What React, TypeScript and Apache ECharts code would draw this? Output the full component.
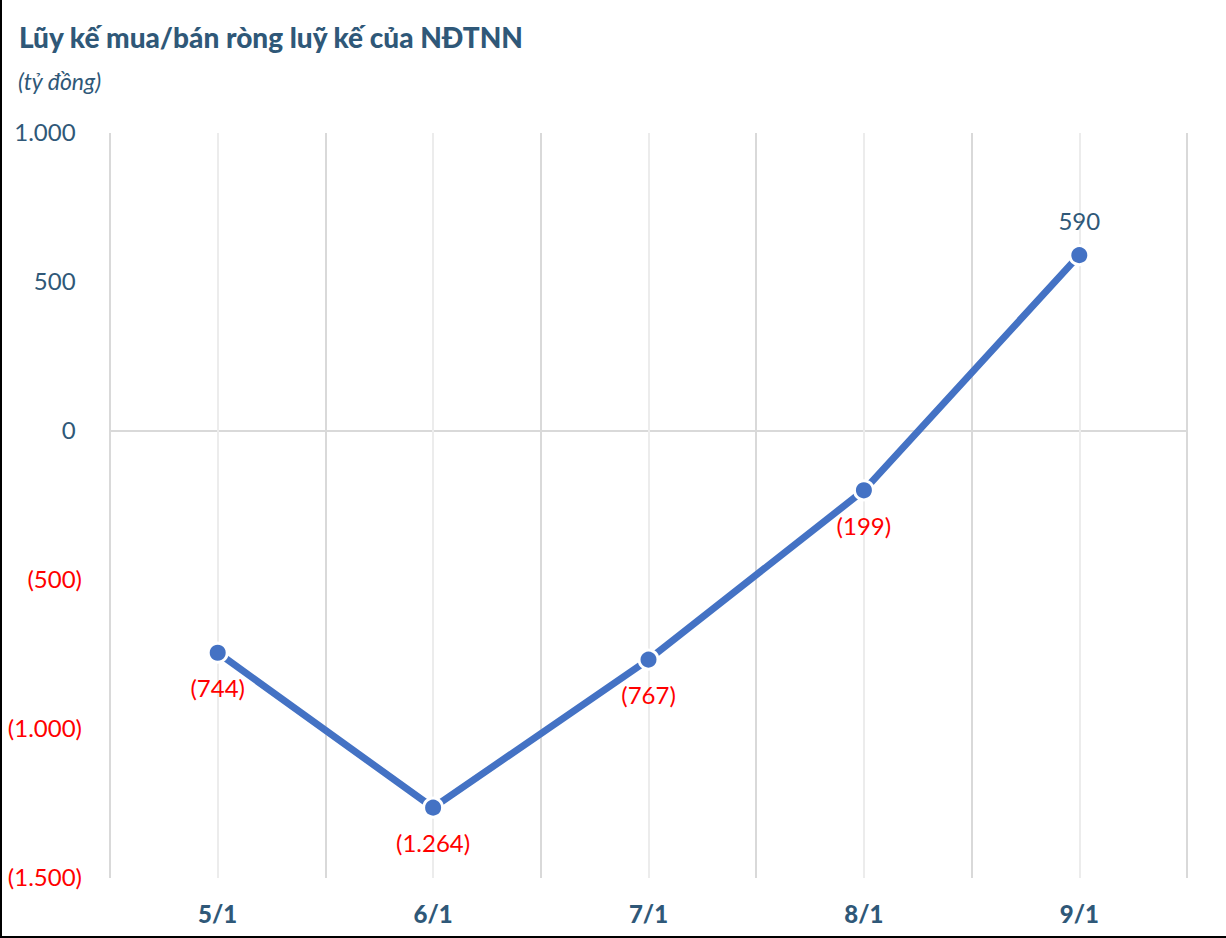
import React, { useEffect, useRef } from "react";
import * as echarts from "echarts";

const categories = ["5/1", "6/1", "7/1", "8/1", "9/1"];
const values = [-744, -1264, -767, -199, 590];
const yMin = -1500;
const yMax = 1000;
const yInterval = 500;
const titleText = "Lũy kế mua/bán ròng luỹ kế của NĐTNN";
const subtitleText = "(tỷ đồng)";

const DARK = "#2f5878";
const RED = "#ff0000";
const LINE = "#4472c4";
const FONT = "Lato, 'Noto Sans', sans-serif";

function fmt(v: number): string {
  const s = Math.abs(v)
    .toString()
    .replace(/\B(?=(\d{3})+(?!\d))/g, ".");
  return v < 0 ? `(${s})` : s;
}

export default function App() {
  const ref = useRef<HTMLDivElement>(null);
  useEffect(() => {
    if (!ref.current) return;
    const chart = echarts.init(ref.current, null, { renderer: "svg" });
    const zeroIdx = Math.round((0 - yMin) / yInterval);
    const nTicks = Math.round((yMax - yMin) / yInterval) + 1;
    const yLineColors = Array.from({ length: nTicks }, (_, i) =>
      i === zeroIdx ? "#d9d9d9" : "rgba(0,0,0,0)"
    );
    const halfCats = categories.flatMap((c) => [c + "-a", c + "-b"]);
    chart.setOption({
      animation: false,
      backgroundColor: "#ffffff",
      title: [
        {
          text: titleText,
          left: 19,
          top: 23,
          padding: 0,
          textStyle: { fontFamily: FONT, fontWeight: 900, fontSize: 28, color: DARK },
        },
        {
          text: subtitleText,
          left: 18,
          top: 69,
          padding: 0,
          textStyle: { fontFamily: FONT, fontStyle: "italic", fontWeight: "normal", fontSize: 23, color: DARK },
        },
      ],
      graphic: [
        { type: "rect", shape: { x: 0, y: 0, width: 2, height: 938 }, style: { fill: "#000" }, z: 100 },
        { type: "rect", shape: { x: 0, y: 936, width: 1226, height: 2 }, style: { fill: "#000" }, z: 100 },
      ],
      grid: { left: 110, right: 39, top: 133, bottom: 60 },
      xAxis: [
        {
          type: "category",
          data: categories,
          boundaryGap: true,
          axisLine: { show: false },
          axisTick: { show: false },
          splitLine: { show: false },
          axisLabel: {
            fontFamily: FONT,
            fontWeight: 900,
            fontSize: 24,
            color: DARK,
            margin: 23,
          },
        },
        {
          type: "category",
          data: halfCats,
          position: "bottom",
          boundaryGap: true,
          axisLine: { show: false },
          axisTick: { show: false },
          axisLabel: { show: false },
          splitLine: {
            show: true,
            interval: 0,
            lineStyle: { color: ["#d9d9d9", "#ececec"], width: 2 },
          },
        },
      ],
      yAxis: {
        type: "value",
        min: yMin,
        max: yMax,
        interval: yInterval,
        axisLine: { show: false },
        axisTick: { show: false },
        splitLine: { show: true, lineStyle: { color: yLineColors, width: 2 } },
        axisLabel: {
          margin: 28,
          formatter: (v: number) => (v < 0 ? `{n|${fmt(v)}}` : `{p|${fmt(v)}}{h|)}`),
          rich: {
            n: { fontFamily: FONT, fontSize: 24, color: RED, padding: [0, 0, 4, 0] },
            p: { fontFamily: FONT, fontSize: 24, color: DARK, padding: [0, 0, 4, 0] },
            h: { fontFamily: FONT, fontSize: 24, color: "rgba(0,0,0,0)", padding: [0, 0, 4, 0] },
          },
        },
      },
      series: [
        {
          type: "line",
          xAxisIndex: 0,
          data: values.map((v) => ({
            value: v,
            label: {
              position: v < 0 ? "bottom" : "top",
              color: v < 0 ? RED : DARK,
            },
          })),
          symbol: "circle",
          symbolSize: 19,
          lineStyle: { color: LINE, width: 7 },
          itemStyle: { color: LINE, borderColor: "#ffffff", borderWidth: 3 },
          label: {
            show: true,
            distance: 12,
            fontFamily: FONT,
            fontSize: 24,
            formatter: (p: any) => fmt(p.value),
          },
        },
      ],
    });
    return () => chart.dispose();
  }, []);
  return (
    <div
      ref={ref}
      style={{ position: "absolute", left: 0, top: 0, width: 1226, height: 938, background: "#fff" }}
    />
  );
}
